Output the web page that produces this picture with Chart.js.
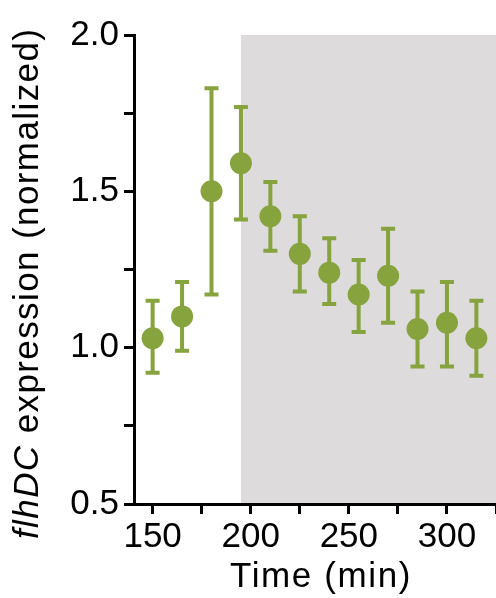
<!DOCTYPE html>
<html>
<head>
<meta charset="utf-8">
<script src="https://cdn.jsdelivr.net/npm/chart.js@4/dist/chart.umd.min.js"></script>
<style>
body { margin:0; background:#fff; }
#box { position:relative; width:496px; height:598px; }
</style>
</head>
<body>
<div id="box"><canvas id="c"></canvas></div>
<script>
// time points (min) and normalized flhDC expression
const times = [150, 165, 180, 195, 210, 225, 240, 255, 270, 285, 300, 315]
const means = [1.03, 1.10, 1.50, 1.59, 1.42, 1.30, 1.24, 1.17, 1.23, 1.06, 1.08, 1.03]
const upper = [1.15, 1.21, 1.83, 1.77, 1.53, 1.42, 1.35, 1.28, 1.38, 1.18, 1.21, 1.15]
const lower = [0.92, 0.99, 1.17, 1.41, 1.31, 1.18, 1.14, 1.05, 1.08, 0.94, 0.94, 0.91]
const xTicks = [150, 175, 200, 225, 250, 275, 300, 325]
const xTickLabels = [150, 200, 250, 300]
const yTickLabels = [0.5, 1.0, 1.5, 2.0]
const shadeFrom = 195

const yTitleItalic = 'flhDC'
const yTitleRest = ' expression (normalized)'
const xTitle = 'Time (min)'

const green = '#86a33d'
const fam = "'Liberation Sans', Arial, sans-serif"

const extras = {
	id: 'extras',
	beforeDraw: c => {
		const ctx = c.ctx, x = c.scales.x, a = c.chartArea
		ctx.save()
		ctx.fillStyle = '#dddbdc'
		const x0 = x.getPixelForValue(shadeFrom)
		ctx.fillRect(x0, a.top, a.right - x0, a.bottom - a.top)
		ctx.restore()
	},
	beforeDatasetsDraw: c => {
		const ctx = c.ctx, x = c.scales.x, y = c.scales.y
		ctx.save()
		ctx.strokeStyle = green
		ctx.lineWidth = 4
		times.forEach((t, i) => {
			const px = x.getPixelForValue(t)
			const hi = y.getPixelForValue(upper[i]), lo = y.getPixelForValue(lower[i])
			ctx.beginPath()
			ctx.moveTo(px, hi); ctx.lineTo(px, lo)
			ctx.moveTo(px - 7, hi); ctx.lineTo(px + 7, hi)
			ctx.moveTo(px - 7, lo); ctx.lineTo(px + 7, lo)
			ctx.stroke()
		})
		ctx.restore()
	},
	afterDraw: c => {
		const ctx = c.ctx, a = c.chartArea
		ctx.save()
		ctx.fillStyle = '#000'
		ctx.letterSpacing = '1.4px'
		ctx.textBaseline = 'alphabetic'
		ctx.textAlign = 'left'

		// y title, italic gene name + plain rest, read bottom to top
		ctx.translate(38, 539)
		ctx.rotate(-Math.PI / 2)
		ctx.font = 'italic 35px ' + fam
		const w1 = ctx.measureText(yTitleItalic).width
		ctx.fillText(yTitleItalic, 0, 0)
		ctx.font = '35px ' + fam
		ctx.fillText(yTitleRest, w1, 0)
		ctx.restore()

		ctx.save()
		ctx.fillStyle = '#000'
		ctx.letterSpacing = '1.6px'
		ctx.font = '35px ' + fam
		ctx.textAlign = 'center'
		ctx.textBaseline = 'alphabetic'
		ctx.fillText(xTitle, (a.left + a.right) / 2 + 6, 587)
		ctx.restore()
	}
}

new Chart(document.getElementById('c'), {
	type: 'scatter',
	data: {
		datasets: [{
			data: times.map((t, i) => ({ x: t, y: means[i] })),
			backgroundColor: green,
			borderWidth: 0,
			pointRadius: 11,
			pointHoverRadius: 11,
		}]
	},
	plugins: [extras],
	options: {
		responsive: true,
		maintainAspectRatio: false,
		animation: false,
		layout: { autoPadding: false, padding: { top: 35, right: 0, left: 0, bottom: 0 } },
		plugins: { legend: { display: false }, tooltip: { enabled: false } },
		scales: {
			x: {
				type: 'linear',
				min: 140.5,
				max: 325,
				afterBuildTicks: s => { s.ticks = xTicks.map(v => ({ value: v })) },
				afterFit: s => { s.height = 94; s.paddingLeft = 0; s.paddingRight = 0 },
				ticks: {
					color: '#000',
					font: { size: 35, family: fam },
					padding: 2,
					maxRotation: 0,
					autoSkip: false,
					callback: v => xTickLabels.includes(v) ? String(v) : '',
				},
				grid: { drawOnChartArea: false, drawTicks: true, tickLength: 10, tickWidth: 3, tickColor: '#000' },
				border: { display: true, color: '#000', width: 3 },
			},
			y: {
				min: 0.5,
				max: 2.0,
				afterFit: s => { s.width = 134 },
				ticks: {
					stepSize: 0.25,
					color: '#000',
					font: { size: 35, family: fam },
					padding: 5,
					autoSkip: false,
					callback: v => yTickLabels.includes(v) ? v.toFixed(1) : '',
				},
				grid: { drawOnChartArea: false, drawTicks: true, tickLength: 10, tickWidth: 3, tickColor: '#000' },
				border: { display: true, color: '#000', width: 3 },
			}
		}
	}
})
</script>
</body>
</html>
